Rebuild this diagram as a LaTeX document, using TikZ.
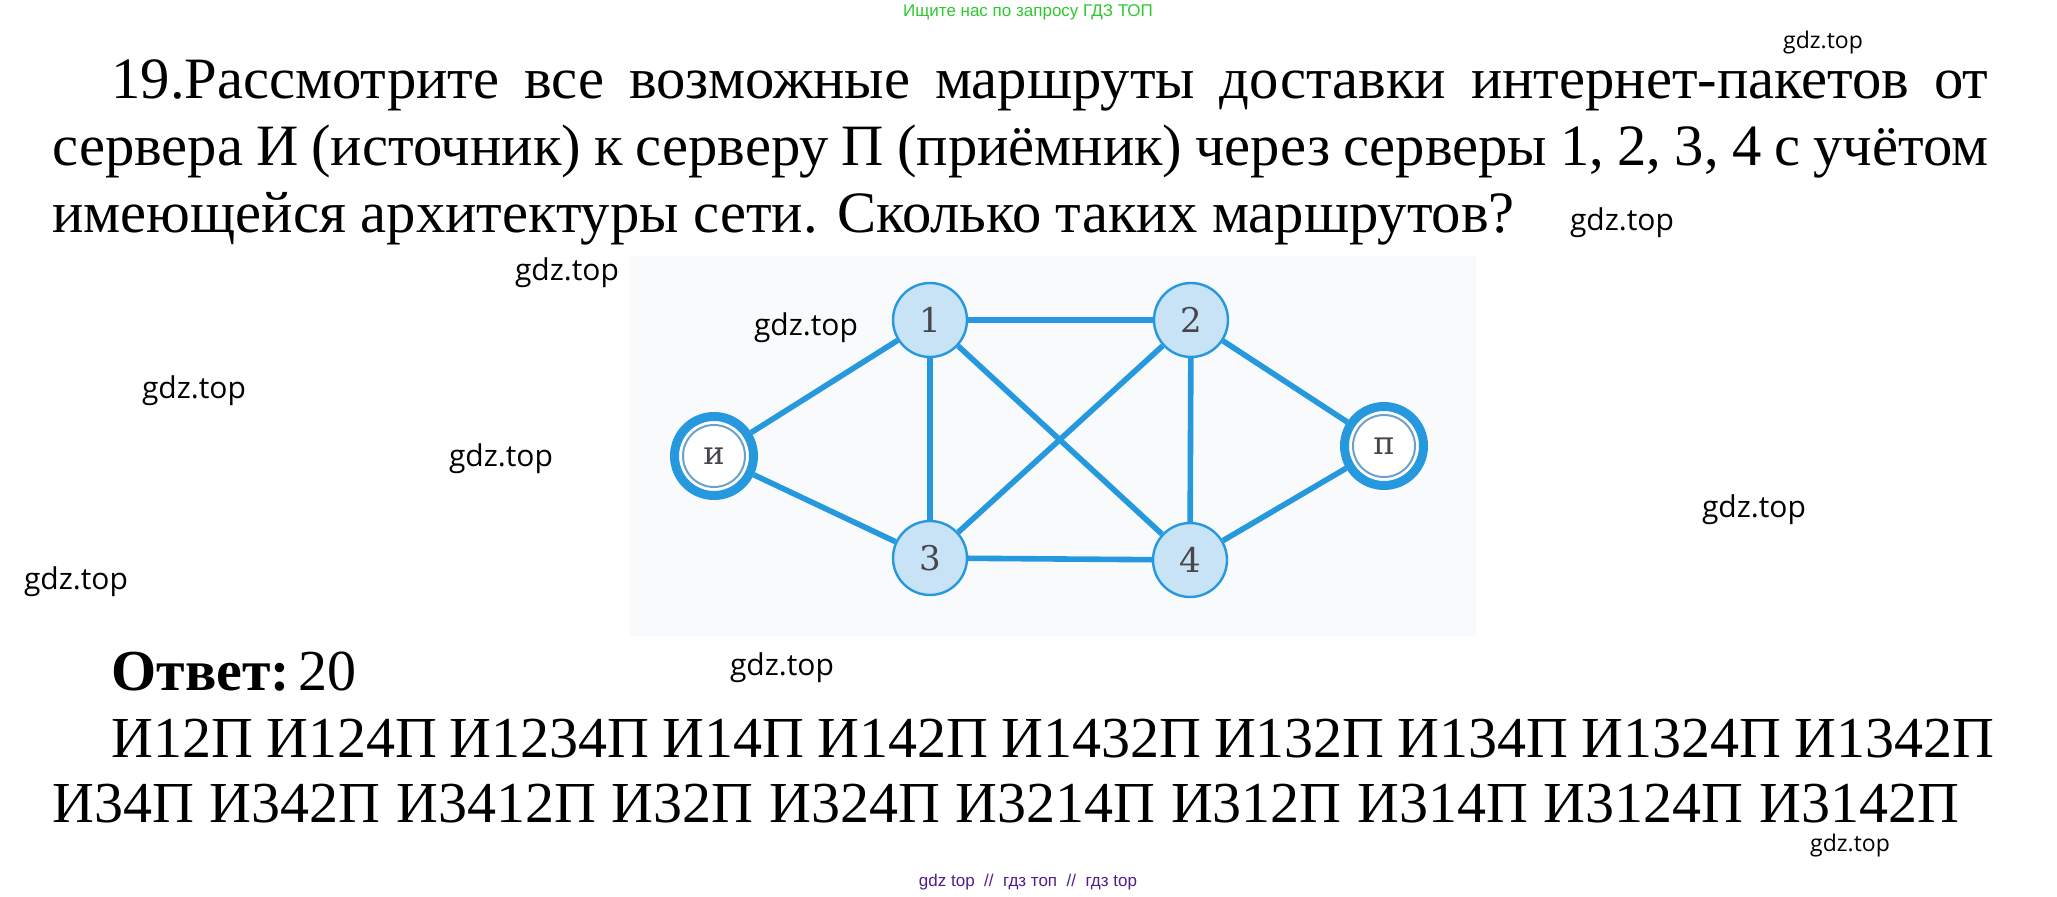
\documentclass[tikz,border=0pt]{standalone}
\usepackage{fontspec}
\setmainfont{Liberation Serif}
\newfontfamily\wmfont{Open Sans}
\newfontfamily\adfont{Liberation Sans}
\newfontfamily\labelfont{DejaVu Serif}
\definecolor{linkblue}{RGB}{38,152,222}
\definecolor{ringblue}{RGB}{110,160,205}
\definecolor{serverfill}{RGB}{200,226,246}
\definecolor{labelgray}{RGB}{70,70,75}
\definecolor{scanbg}{RGB}{249,250,252}
\definecolor{adgreen}{RGB}{45,200,45}
\definecolor{adpurple}{RGB}{80,30,140}
\tikzset{
  qline/.style={anchor=base west, inner sep=0pt, text height=18pt, font=\fontsize{29.3}{29.3}\selectfont},
  aline/.style={anchor=base west, inner sep=0pt, font=\fontsize{29}{29}\selectfont},
  wm/.style={inner sep=0pt, font=\wmfont\fontsize{15}{15}\selectfont},
  wmsmall/.style={inner sep=0pt, font=\wmfont\fontsize{11.5}{11.5}\selectfont},
  server/.style={circle, draw=linkblue, line width=1.2pt, fill=serverfill, minimum size=37pt,
    inner sep=0pt, text=labelgray, font=\labelfont\fontsize{17}{17}\selectfont},
  endpoint/.style={circle, draw=linkblue, line width=4.5pt, fill=white, minimum size=39.5pt,
    inner sep=0pt, text=labelgray, font=\labelfont\fontsize{16}{16}\selectfont},
  ring/.style={draw=ringblue, line width=1pt},
  link/.style={draw=linkblue, line width=2.8pt}
}
\begin{document}
\begin{tikzpicture}[x=0.5pt, y=-0.5pt]
  \useasboundingbox (0,0) rectangle (2057,897);
  % header and footer
  \node[inner sep=0pt, text=adgreen, font=\adfont\fontsize{8.5}{8.5}\selectfont] (head) at (1028,12) {Ищите нас по запросу ГДЗ ТОП};
  \node[inner sep=0pt, text=adpurple, font=\adfont\fontsize{8.5}{8.5}\selectfont] (foot) at (1028,882) {gdz top \ // \ гдз топ \ // \ гдз top};
  % question
  \node[qline] (q1) at (111,99) {\makebox[938.5pt][s]{19.Рассмотрите все возможные маршруты доставки интернет-пакетов от}};
  \node[qline] (q2) at (52,166) {\makebox[968pt][s]{сервера И (источник) к серверу П (приёмник) через серверы 1, 2, 3, 4 с учётом}};
  \node[qline] (q3) at (52,233) {имеющейся архитектуры сети. Сколько таких маршрутов?};
  % network
  \fill[scanbg] (630,256) rectangle (1476,636);
  \node[server] (n1) at (930,320) {1};
  \node[server] (n2) at (1191,320) {2};
  \node[server] (n3) at (930,558) {3};
  \node[server] (n4) at (1190,560) {4};
  \node[endpoint] (src) at (714,456) {и};
  \node[endpoint] (dst) at (1384,446) {п};
  \draw[ring] (src.center) circle[radius=15.5pt];
  \draw[ring] (dst.center) circle[radius=15.5pt];
  \foreach \a/\b in {src/n1, src/n3, n1/n2, n1/n3, n1/n4, n2/n3, n2/n4, n2/dst, n3/n4, n4/dst}
    \draw[link] (\a) -- (\b);
  % answer
  \node[aline] (ans) at (111,690) {\textbf{Ответ:}\hspace{4.5pt}20};
  \node[aline] (r1) at (111,757) {\makebox[941.5pt][s]{И12П И124П И1234П И14П И142П И1432П И132П И134П И1324П И1342П}};
  \node[aline] (r2) at (52,822) {\makebox[953.5pt][s]{И34П И342П И3412П И32П И324П И3214П И312П И314П И3124П И3142П}};
  % watermarks
  \foreach \x/\y [count=\i] in {1622/223, 567/273, 806/328, 194/391, 501/459, 1754/510, 76/582, 782/668}
    \node[wm] (wm\i) at (\x,\y) {gdz.top};
  \node[wmsmall] (wm9) at (1823,43) {gdz.top};
  \node[wmsmall] (wm10) at (1850,846) {gdz.top};
\end{tikzpicture}
\end{document}
